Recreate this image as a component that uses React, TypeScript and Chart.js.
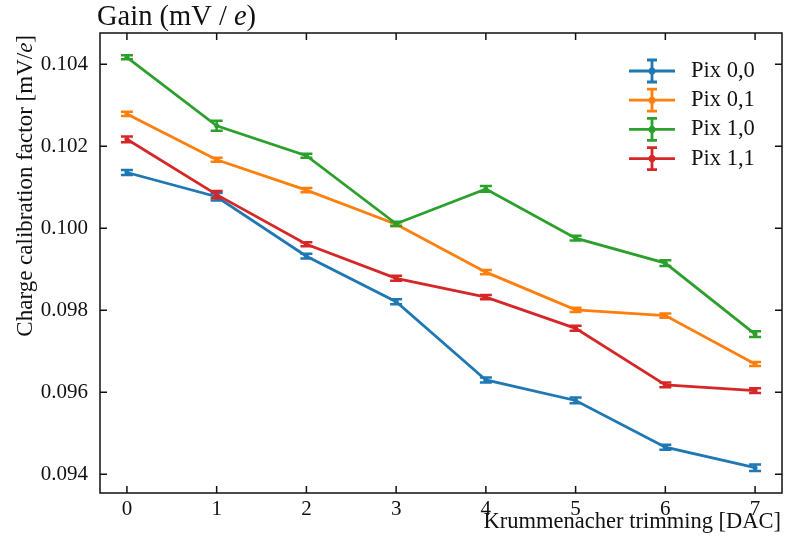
import React, { useEffect, useRef } from "react";
import { Chart, registerables } from "chart.js";

Chart.register(...registerables);

// ---- data ----
const trims = [0, 1, 2, 3, 4, 5, 6, 7];
const xTickLabels = ["0", "1", "2", "3", "4", "5", "6", "7"];
const yTickValues = [0.094, 0.096, 0.098, 0.1, 0.102, 0.104];
const yTickLabels = ["0.094", "0.096", "0.098", "0.100", "0.102", "0.104"];

const seriesLabels = ["Pix 0,0", "Pix 0,1", "Pix 1,0", "Pix 1,1"];
const seriesColors = ["#1f77b4", "#ff7f0e", "#2ca02c", "#d62728"];

const pix00 = [0.10136, 0.10077, 0.09932, 0.09821, 0.0963, 0.0958, 0.09466, 0.09416];
const pix01 = [0.10279, 0.10167, 0.10093, 0.1001, 0.09893, 0.09801, 0.09787, 0.09669];
const pix10 = [0.10417, 0.1025, 0.10177, 0.10011, 0.10096, 0.09976, 0.09915, 0.09742];
const pix11 = [0.10217, 0.10082, 0.09961, 0.09878, 0.09832, 0.09756, 0.09618, 0.09604];

const err00 = [0.00006, 0.00009, 0.00006, 0.00006, 0.00006, 0.00007, 0.00006, 0.00008];
const err01 = [0.00005, 0.00005, 0.00005, 0.00005, 0.00005, 0.00005, 0.00005, 0.00005];
const err10 = [0.00005, 0.00012, 0.00005, 0.00005, 0.00007, 0.00006, 0.00007, 0.00007];
const err11 = [0.00007, 0.00009, 0.00005, 0.00006, 0.00005, 0.00006, 0.00006, 0.00006];

const seriesValues = [pix00, pix01, pix10, pix11];
const seriesErrors = [err00, err01, err10, err11];

const titleMain = "Gain (mV / ";
const titleItalic = "e";
const titleEnd = ")";
const yLabelMain = "Charge calibration factor [mV/";
const yLabelItalic = "e";
const yLabelEnd = "]";
const xLabel = "Krummenacher trimming [DAC]";

const FONT = "'Liberation Serif', 'Times New Roman', serif";
const TEXT = "#111";
const LW = 2.8;

function drawMixed(ctx: CanvasRenderingContext2D, parts: [string, boolean][], size: number, x: number, y: number, alignRight: boolean) {
  const widths = parts.map(([t, it]) => {
    ctx.font = `${it ? "italic " : ""}${size}px ${FONT}`;
    return ctx.measureText(t).width;
  });
  const total = widths.reduce((a, b) => a + b, 0);
  let cx = alignRight ? x - total : x;
  ctx.textAlign = "left";
  parts.forEach(([t, it], i) => {
    ctx.font = `${it ? "italic " : ""}${size}px ${FONT}`;
    ctx.fillText(t, cx, y);
    cx += widths[i];
  });
}

const decorPlugin = {
  id: "decor",
  afterDatasetDraw(chart: any, args: any) {
    const i = args.index;
    const ctx = chart.ctx;
    const xs = chart.scales.x;
    const ys = chart.scales.y;
    const vals = seriesValues[i];
    const errs = seriesErrors[i];
    ctx.save();
    ctx.strokeStyle = seriesColors[i];
    ctx.lineWidth = 2.5;
    ctx.lineCap = "butt";
    vals.forEach((v, k) => {
      const x = xs.getPixelForValue(trims[k]);
      const y1 = ys.getPixelForValue(v + errs[k]);
      const y2 = ys.getPixelForValue(v - errs[k]);
      ctx.beginPath();
      ctx.moveTo(x, y1);
      ctx.lineTo(x, y2);
      ctx.moveTo(x - 6, y1);
      ctx.lineTo(x + 6, y1);
      ctx.moveTo(x - 6, y2);
      ctx.lineTo(x + 6, y2);
      ctx.stroke();
    });
    ctx.restore();
  },
  afterDraw(chart: any) {
    const ctx = chart.ctx;
    const { left, right, top, bottom } = chart.chartArea;
    const xs = chart.scales.x;
    const ys = chart.scales.y;
    ctx.save();
    // frame
    ctx.strokeStyle = "#111";
    ctx.lineWidth = 1.5;
    ctx.strokeRect(left, top, right - left, bottom - top);
    // inward ticks
    const tl = 7;
    ctx.beginPath();
    xs.ticks.forEach((t: any) => {
      const x = xs.getPixelForValue(t.value);
      ctx.moveTo(x, bottom);
      ctx.lineTo(x, bottom - tl);
      ctx.moveTo(x, top);
      ctx.lineTo(x, top + tl);
    });
    ys.ticks.forEach((t: any) => {
      const y = ys.getPixelForValue(t.value);
      ctx.moveTo(left, y);
      ctx.lineTo(left + tl, y);
      ctx.moveTo(right, y);
      ctx.lineTo(right - tl, y);
    });
    ctx.stroke();

    // title
    ctx.fillStyle = TEXT;
    ctx.textBaseline = "alphabetic";
    drawMixed(ctx, [[titleMain, false], [titleItalic, true], [titleEnd, false]], 28.5, left - 3, 25, false);

    // x label
    drawMixed(ctx, [[xLabel, false]], 22.5, right - 1, 528, true);

    // y label (rotated)
    ctx.save();
    ctx.translate(32, top + 2);
    ctx.rotate(-Math.PI / 2);
    drawMixed(ctx, [[yLabelMain, false], [yLabelItalic, true], [yLabelEnd, false]], 23, 0, 0, true);
    ctx.restore();

    // legend
    const lx0 = right - 153;
    const rowY0 = top + 38;
    const rowH = 29.2;
    seriesLabels.forEach((lab, i) => {
      const cy = rowY0 + i * rowH;
      const c = seriesColors[i];
      ctx.strokeStyle = c;
      ctx.fillStyle = c;
      ctx.lineWidth = LW;
      ctx.beginPath();
      ctx.moveTo(lx0, cy);
      ctx.lineTo(lx0 + 46, cy);
      const mx = lx0 + 23;
      ctx.moveTo(mx, cy - 11);
      ctx.lineTo(mx, cy + 11);
      ctx.moveTo(mx - 5, cy - 11);
      ctx.lineTo(mx + 5, cy - 11);
      ctx.moveTo(mx - 5, cy + 11);
      ctx.lineTo(mx + 5, cy + 11);
      ctx.stroke();
      ctx.beginPath();
      ctx.arc(mx, cy, 3.5, 0, Math.PI * 2);
      ctx.fill();
      ctx.fillStyle = TEXT;
      ctx.font = `22.5px ${FONT}`;
      ctx.textAlign = "left";
      ctx.textBaseline = "middle";
      ctx.fillText(lab, lx0 + 62, cy);
    });
    ctx.restore();
  },
};

export default function App() {
  const ref = useRef<HTMLCanvasElement | null>(null);

  useEffect(() => {
    document.body.style.margin = "0";
    const canvas = ref.current;
    if (!canvas) return;
    const datasets = seriesLabels.map((lab, i) => ({
      label: lab,
      data: trims.map((t, k) => ({ x: t, y: seriesValues[i][k] })),
      borderColor: seriesColors[i],
      backgroundColor: seriesColors[i],
      borderWidth: LW,
      pointRadius: 2.5,
      pointBorderWidth: 0,
      pointBackgroundColor: seriesColors[i],
      tension: 0,
      fill: false,
      order: 4 - i,
    }));
    const chart = new Chart(canvas, {
      type: "line",
      data: { datasets },
      options: {
        animation: false,
        responsive: false,
        devicePixelRatio: 1,
        layout: { padding: { top: 33, right: 5, bottom: 0, left: 0 } },
        plugins: {
          legend: { display: false },
          tooltip: { enabled: false },
          title: { display: false },
        },
        scales: {
          x: {
            type: "linear",
            min: -0.3,
            max: 7.3,
            grid: { display: false, drawTicks: false },
            border: { display: false },
            afterBuildTicks: (s: any) => {
              s.ticks = trims.map((v) => ({ value: v }));
            },
            afterFit: (s: any) => {
              s.height = 54;
            },
            ticks: {
              padding: 4,
              color: TEXT,
              font: { family: FONT, size: 21 },
              maxRotation: 0,
              callback: (v: any) => {
                const idx = trims.indexOf(Number(v));
                return idx >= 0 ? xTickLabels[idx] : "";
              },
            },
            title: { display: false },
          },
          y: {
            type: "linear",
            min: 0.0935435,
            max: 0.104763,
            grid: { display: false, drawTicks: false },
            border: { display: false },
            afterBuildTicks: (s: any) => {
              s.ticks = yTickValues.map((v) => ({ value: v }));
            },
            afterFit: (s: any) => {
              s.width = 100;
            },
            ticks: {
              padding: 12,
              color: TEXT,
              font: { family: FONT, size: 21 },
              callback: (v: any) => {
                const idx = yTickValues.findIndex((t) => Math.abs(t - Number(v)) < 1e-9);
                return idx >= 0 ? yTickLabels[idx] : "";
              },
            },
          },
        },
      },
      plugins: [decorPlugin],
    });
    return () => chart.destroy();
  }, []);

  return (
    <div style={{ width: 787, height: 547 }}>
      <canvas ref={ref} width={787} height={547} style={{ display: "block" }} />
    </div>
  );
}
